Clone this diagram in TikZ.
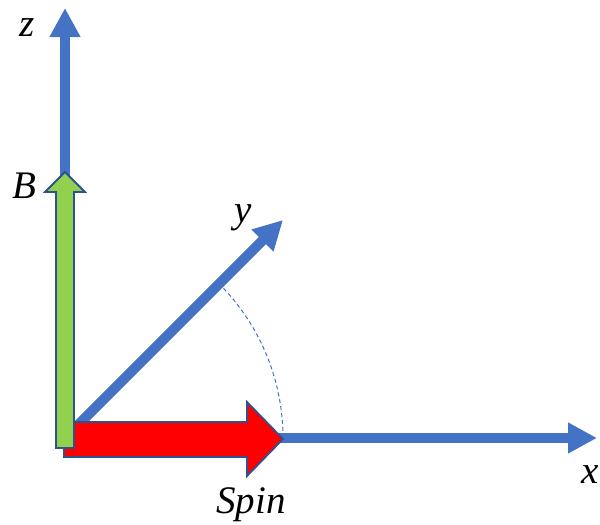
\documentclass[tikz,border=0pt]{standalone}
\usepackage{fontspec}
\setmainfont{Liberation Serif}
\usetikzlibrary{arrows.meta}
\definecolor{axisblue}{HTML}{4472C4}
\definecolor{edgeblue}{HTML}{2F528F}
\definecolor{spinred}{HTML}{FF0000}
\definecolor{bgreen}{HTML}{92D050}
\begin{document}
\begin{tikzpicture}[x=1pt,y=-1pt,
  axis/.style={draw=axisblue, line width=10pt, -{Triangle[length=29pt,width=29pt]}},
  lbl/.style={font=\fontsize{39}{42}\selectfont\itshape, anchor=base, inner sep=0pt},
  blockarrow/.style={draw=edgeblue, line width=1.8pt, line join=miter}]
\useasboundingbox (0,0) rectangle (600,525);
\coordinate (O) at (65,438);
\coordinate (xtip) at (597,438);
\coordinate (ztip) at (65,8);
\coordinate (ytip) at (283,220);
\draw[axis] (O) -- (xtip);
\draw[axis] (O) -- (ztip);
\draw[axis] (O) -- (ytip);
\draw[axisblue, line width=1pt, dash pattern=on 4pt off 3pt] (283,438) arc[start angle=0, end angle=-44, radius=218];
% Spin arrow
\draw[blockarrow, fill=spinred] (64,422) -- (247,422) -- (247,402) -- (283,439) -- (247,476) -- (247,457) -- (64,457) -- cycle;
% B arrow
\draw[blockarrow, fill=bgreen] (56,448) -- (56,192) -- (45,192) -- (65,172) -- (85,192) -- (74,192) -- (74,448) -- cycle;
\node[lbl] (zl) at (27,36) {z};
\node[lbl] (bl) at (24,198) {B};
\node[lbl] (yl) at (243,222) {y};
\node[lbl] (xl) at (590,483) {x};
\node[lbl] (sl) at (251,513) {Spin};
\end{tikzpicture}
\end{document}
